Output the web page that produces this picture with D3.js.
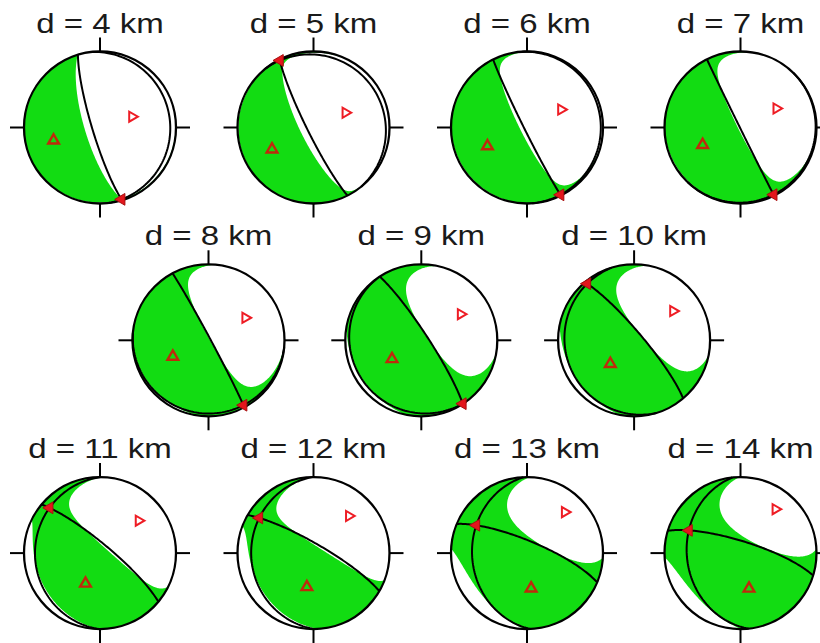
<!DOCTYPE html>
<html>
<head>
<meta charset="utf-8">
<script src="https://cdn.jsdelivr.net/npm/d3@7"></script>
<style>
  body { margin: 0; background: #fff; }
</style>
</head>
<body>
<div id="chart"></div>
<script>
// trial source depths (km)
const depths = [4, 5, 6, 7, 8, 9, 10, 11, 12, 13, 14];
const pTrend  = [254.4, 242.2, 244.7, 245.4, 245.3, 237.4, 225.5, 205.5, 191.0, 172.7, 167.0];
const pPlunge = [36.0, 38.0, 42.0, 44.1, 46.7, 50.9, 52.7, 53.5, 52.5, 51.8, 50.0];
const tTrend  = [71.4, 65.2, 62.2, 62.1, 58.6, 56.5, 53.0, 50.0, 43.7, 43.0, 38.3];
const tPlunge = [52.5, 51.5, 48.0, 45.3, 42.2, 36.4, 35.0, 34.0, 33.0, 28.0, 26.6];
// moment tensor eigenvalues (P axis = 1)
const eigB = [0.0, 0.02, 0.05, 0.08, 0.14, 0.3, 0.32, 0.15, 0.13, 0.45, 0.5];
const eigT = [-1.75, -1.7, -1.35, -1.15, -1.06, -1.04, -1.03, -1.2, -1.2, -1.0, -0.95];

const width = 820, height = 643;
const R = 76, N = 220, ext = 1.03;

const svg = d3.select("#chart").append("svg")
    .attr("width", width)
    .attr("height", height);

const rad = Math.PI / 180;

// unit vector (north, east, down)
function axis(trend, plunge) {
    return [Math.cos(plunge * rad) * Math.cos(trend * rad),
            Math.cos(plunge * rad) * Math.sin(trend * rad),
            Math.sin(plunge * rad)];
}
function dot(a, b) { return a[0] * b[0] + a[1] * b[1] + a[2] * b[2]; }
function cross(a, b) {
    return [a[1] * b[2] - a[2] * b[1], a[2] * b[0] - a[0] * b[2], a[0] * b[1] - a[1] * b[0]];
}
function norm(a) { const l = Math.sqrt(dot(a, a)); return [a[0] / l, a[1] / l, a[2] / l]; }
function add(a, b, k) { return [a[0] + k * b[0], a[1] + k * b[1], a[2] + k * b[2]]; }

// lower hemisphere, equal area
function project(v) {
    if (v[2] < 0) v = [-v[0], -v[1], -v[2]];
    const th = Math.acos(Math.min(1, v[2]));
    const r = Math.SQRT2 * Math.sin(th / 2);
    const h = Math.hypot(v[0], v[1]);
    if (h < 1e-9) return [0, 0];
    return [r * v[1] / h, r * v[0] / h];   // [east, north]
}
function unproject(x, y) {
    let r = Math.hypot(x, y);
    if (r > 1) r = 1;
    const th = 2 * Math.asin(r / Math.SQRT2);
    const h = Math.hypot(x, y) || 1;
    return [Math.sin(th) * y / h, Math.sin(th) * x / h, Math.cos(th)];
}

const defs = svg.append("defs");

depths.forEach(function (d, i) {
    const row = i < 4 ? 0 : i < 7 ? 1 : 2;
    const col = i < 4 ? i : i < 7 ? i - 4 : i - 7;
    const cx = row === 1 ? 208.5 + col * 212.8 : 100 + col * 213.5;
    const cy = 127.5 + row * 212.8;

    // axes, made orthogonal
    let p = axis(pTrend[i], pPlunge[i]);
    let t = axis(tTrend[i], tPlunge[i]);
    const c = dot(p, t);
    p = norm(add(p, t, -c / 2));
    t = norm(add(t, p, -c / 2));
    t = norm(add(t, p, -dot(p, t)));
    const b = norm(cross(p, t));
    const n1 = norm(add(t, p, 1));
    const n2 = norm(add(t, p, -1));

    const sx = v => cx + v[0] * R;
    const sy = v => cy - v[1] * R;

    const g = svg.append("g");

    // compressional region from the moment tensor
    const values = new Float64Array(N * N);
    for (let j = 0; j < N; j++) {
        for (let k = 0; k < N; k++) {
            const x = ((k + 0.5) / N * 2 - 1) * ext;
            const y = (1 - (j + 0.5) / N * 2) * ext;
            const gm = unproject(x, y);
            const a = dot(gm, p), bb = dot(gm, b), tt = dot(gm, t);
            values[j * N + k] = a * a + eigB[i] * bb * bb + eigT[i] * tt * tt;
        }
    }
    const contours = d3.contours().size([N, N]).thresholds([0])(values);
    const path = d3.geoPath(d3.geoIdentity()
        .scale(2 * ext * R / N)
        .translate([cx - ext * R, cy - ext * R]));

    defs.append("clipPath").attr("id", "clip" + i)
        .append("circle").attr("cx", cx).attr("cy", cy).attr("r", R);

    g.append("g").attr("clip-path", "url(#clip" + i + ")")
        .selectAll("path")
        .data(contours)
        .enter().append("path")
        .attr("d", path)
        .attr("fill", "#12dc12");

    // nodal planes
    const line = d3.line().x(sx).y(sy);
    [n1, n2].forEach(function (n) {
        const h1 = norm([n[1], -n[0], 0]);
        let h2 = cross(n, h1);
        if (h2[2] < 0) h2 = [-h2[0], -h2[1], -h2[2]];
        const pts = d3.range(0, 181, 2).map(function (a) {
            const ca = Math.cos(a * rad), sa = Math.sin(a * rad);
            return project([ca * h1[0] + sa * h2[0], ca * h1[1] + sa * h2[1], ca * h1[2] + sa * h2[2]]);
        });
        g.append("path")
            .attr("d", line(pts))
            .attr("fill", "none")
            .attr("stroke", "#000")
            .attr("stroke-width", 2);
    });

    g.append("circle")
        .attr("cx", cx).attr("cy", cy).attr("r", R)
        .attr("fill", "none")
        .attr("stroke", "#000")
        .attr("stroke-width", 2.3);

    // ticks N, E, S, W
    [[0, -1], [1, 0], [0, 1], [-1, 0]].forEach(function (q) {
        g.append("line")
            .attr("x1", cx + q[0] * R).attr("y1", cy + q[1] * R)
            .attr("x2", cx + q[0] * (R + 14)).attr("y2", cy + q[1] * (R + 14))
            .attr("stroke", "#000")
            .attr("stroke-width", 2);
    });

    // B axis
    const pb = project(b);
    g.append("path")
        .attr("d", d3.symbol(d3.symbolTriangle, 60)())
        .attr("transform", "translate(" + sx(pb) + "," + sy(pb) + ") rotate(-90)")
        .attr("fill", "#e3161c")
        .attr("stroke", "#a81010")
        .attr("stroke-width", 1);

    // P axis
    const pp = project(p);
    g.append("path")
        .attr("d", d3.symbol(d3.symbolTriangle, 50)())
        .attr("transform", "translate(" + sx(pp) + "," + sy(pp) + ")")
        .attr("fill", "none")
        .attr("stroke", "#bf2a0c")
        .attr("stroke-width", 2.4);

    // T axis
    const pt = project(t);
    g.append("path")
        .attr("d", d3.symbol(d3.symbolTriangle, 44)())
        .attr("transform", "translate(" + sx(pt) + "," + sy(pt) + ") rotate(90)")
        .attr("fill", "#fff")
        .attr("stroke", "#ee1c24")
        .attr("stroke-width", 2);

    // title
    g.append("text")
        .attr("transform", "translate(" + cx + "," + (cy - 95) + ") scale(1.18,1)")
        .attr("text-anchor", "middle")
        .style("font-family", "'Liberation Sans', Arial, sans-serif")
        .style("font-size", "28px")
        .attr("fill", "#1a1a1a")
        .text("d = " + d + " km");
});
</script>
</body>
</html>
